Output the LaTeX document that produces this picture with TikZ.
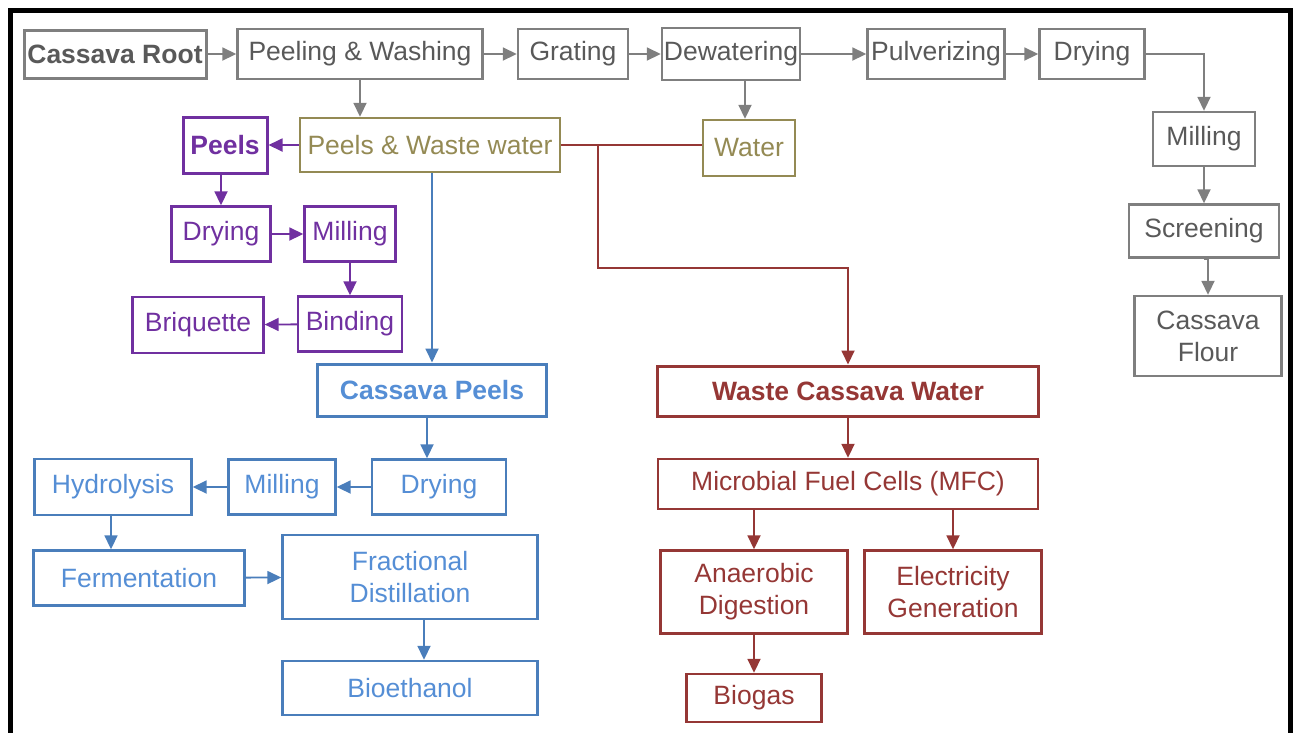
\documentclass[tikz,border=0pt]{standalone}
\usepackage{fontspec}
\setmainfont{Liberation Sans}
\usetikzlibrary{arrows.meta}

\definecolor{grayln}{HTML}{7F7F7F}
\definecolor{graytx}{HTML}{595959}
\definecolor{olive}{HTML}{948A54}
\definecolor{purp}{HTML}{7030A0}
\definecolor{blueln}{HTML}{4A7EBB}
\definecolor{bluetx}{HTML}{558ED5}
\definecolor{redln}{HTML}{953735}

\begin{document}
\begin{tikzpicture}[x=1pt, y=-1pt,
   box/.style={draw, line width=2.4pt, align=center, inner sep=2pt,
     font=\fontsize{26.5}{32}\selectfont},
   bold/.style={line width=3pt, font=\fontsize{26.5}{32}\selectfont\bfseries},
   gbox/.style={box, draw=grayln, text=graytx},
   obox/.style={box, draw=olive, text=olive},
   pbox/.style={box, draw=purp, text=purp},
   bbox/.style={box, draw=blueln, text=bluetx},
   rbox/.style={box, draw=redln, text=redln},
   tip/.style={-{Triangle[length=14pt,width=13pt]}, line width=1.8pt},
   garr/.style={tip, draw=grayln},
   parr/.style={tip, draw=purp},
   barr/.style={tip, draw=blueln},
   rarr/.style={tip, draw=redln}]
   \useasboundingbox (0,0) rectangle (1295,732);
   \draw[line width=5pt] (10,740) -- (10,10) -- (1290,10) -- (1290,740);

   % flour line
   \node[gbox, bold, minimum width=182, minimum height=48] (root) at (115,54) {Cassava Root};
   \node[gbox, minimum width=245, minimum height=50] (wash) at (360,54) {Peeling \& Washing};
   \node[gbox, minimum width=110, minimum height=50] (grate) at (573,54) {Grating};
   \node[gbox, minimum width=132, minimum height=52] (dewat) at (731,54) {Dewatering};
   \node[gbox, minimum width=137, minimum height=50] (pulv) at (936,54) {Pulverizing};
   \node[gbox, minimum width=105, minimum height=50] (gdry) at (1092,54) {Drying};
   \node[gbox, minimum width=102, minimum height=54] (gmill) at (1204,139) {Milling};
   \node[gbox, minimum width=150, minimum height=53] (screen) at (1204,231) {Screening};
   \node[gbox, minimum width=147, minimum height=80] (flour) at (1208,336) {Cassava\\Flour};

   \draw[garr] (root) -- (wash);
   \draw[garr] (wash) -- (grate);
   \draw[garr] (grate) -- (dewat);
   \draw[garr] (dewat) -- (pulv);
   \draw[garr] (pulv) -- (gdry);
   \draw[garr] (gdry.east) -| (gmill.north);
   \draw[garr] (gmill) -- (screen);
   \draw[garr] (screen.south) -- (screen.south -| flour) -- (flour.north);

   % by-products
   \node[pbox, bold, minimum width=84, minimum height=56] (peels) at (225,145) {Peels};
   \node[obox, minimum width=260, minimum height=54] (pww) at (430,145) {Peels \& Waste water};
   \node[obox, minimum width=92, minimum height=56] (water) at (749,148) {Water};
   \draw[garr] (wash.south) -- (wash.south |- pww.north);
   \draw[garr] (dewat.south -| 745,0) -- (745,0 |- water.north);
   \draw[parr] (pww) -- (peels);
   \draw[redln, line width=1.8pt] (pww.east) -- (pww.east -| water.west);

   % briquette line
   \node[pbox, minimum width=99, minimum height=55] (pdry) at (221,234) {Drying};
   \node[pbox, minimum width=91, minimum height=55] (pmill) at (350,234) {Milling};
   \node[pbox, minimum width=104, minimum height=55] (bind) at (350,324) {Binding};
   \node[pbox, minimum width=131, minimum height=56] (briq) at (198,325) {Briquette};
   \draw[parr] (peels.south -| pdry) -- (pdry.north);
   \draw[parr] (pdry) -- (pmill);
   \draw[parr] (pmill) -- (bind);
   \draw[parr] (bind) -- (briq);

   % bioethanol line
   \node[bbox, bold, minimum width=229, minimum height=52] (cpeel) at (432,390) {Cassava Peels};
   \node[bbox, minimum width=134, minimum height=55] (bdry) at (439,487) {Drying};
   \node[bbox, minimum width=107, minimum height=55] (bmill) at (282,487) {Milling};
   \node[bbox, minimum width=157, minimum height=56] (hydro) at (113,487) {Hydrolysis};
   \node[bbox, minimum width=211, minimum height=55] (ferm) at (139,578) {Fermentation};
   \node[bbox, minimum width=255, minimum height=84] (frac) at (410,577) {Fractional\\Distillation};
   \node[bbox, minimum width=255, minimum height=54] (bioeth) at (410,688) {Bioethanol};
   \draw[barr] (pww.south -| cpeel) -- (cpeel.north);
   \draw[barr] (cpeel.south -| 427,0) -- (427,0 |- bdry.north);
   \draw[barr] (bdry) -- (bmill);
   \draw[barr] (bmill) -- (hydro);
   \draw[barr] (hydro.south -| 111,0) -- (111,0 |- ferm.north);
   \draw[barr] (ferm) -- (frac);
   \draw[barr] (frac.south -| 424,0) -- (424,0 |- bioeth.north);

   % waste water line
   \node[rbox, bold, minimum width=381, minimum height=50] (wcw) at (848,391) {Waste Cassava Water};
   \node[rbox, minimum width=380, minimum height=50] (mfc) at (848,484) {Microbial Fuel Cells (MFC)};
   \node[rbox, minimum width=187, minimum height=83] (anaer) at (754,592) {Anaerobic\\Digestion};
   \node[rbox, minimum width=177, minimum height=83] (elec) at (953,592) {Electricity\\Generation};
   \node[rbox, minimum width=135, minimum height=48] (biogas) at (754,698) {Biogas};
   \coordinate (split) at (598,145);
   \coordinate (turn) at (598,268);
   \draw[rarr] (split) -- (turn) -| (wcw.north);
   \draw[rarr] (wcw) -- (mfc);
   \draw[rarr] (mfc.south -| anaer) -- (anaer.north);
   \draw[rarr] (mfc.south -| elec) -- (elec.north);
   \draw[rarr] (anaer) -- (biogas);
\end{tikzpicture}
\end{document}
